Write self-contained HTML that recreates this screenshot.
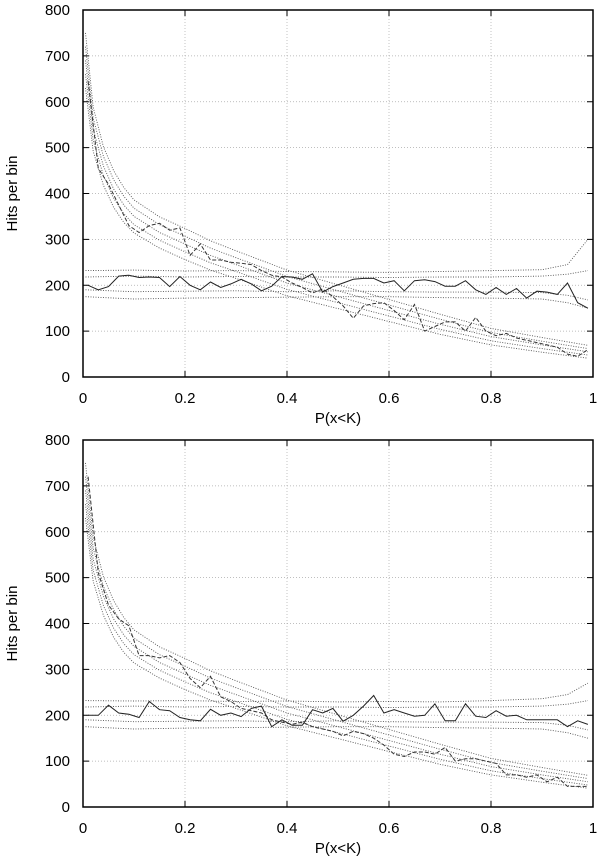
<!DOCTYPE html>
<html><head><meta charset="utf-8"><style>
html,body{margin:0;padding:0;background:#fff;}
svg{display:block;font-family:"Liberation Sans",Arial,sans-serif;}
</style></head><body>
<svg id="fig" width="600" height="864" viewBox="0 0 600 864"></svg>
<script>
const binX=[0.01,0.03,0.05,0.07,0.09,0.11,0.13,0.15,0.17,0.19,0.21,0.23,0.25,0.27,0.29,0.31,0.33,0.35,0.37,0.39,0.41,0.43,0.45,0.47,0.49,0.51,0.53,0.55,0.57,0.59,0.61,0.63,0.65,0.67,0.69,0.71,0.73,0.75,0.77,0.79,0.81,0.83,0.85,0.87,0.89,0.91,0.93,0.95,0.97,0.99];
const solid1=[200,190,197,220,222,217,218,217,197,219,200,190,207,195,203,213,203,188,198,219,218,213,225,185,197,205,213,215,215,205,210,188,210,212,208,198,198,210,190,180,195,180,193,172,187,185,180,205,162,150];
const dashed1=[645,455,420,375,330,315,330,335,320,325,265,290,255,255,250,248,245,232,222,218,205,195,183,192,175,155,128,155,160,162,145,125,158,100,110,120,120,100,130,100,90,95,85,80,75,70,65,50,45,60];
const solid2=[200,200,222,205,202,195,230,212,210,195,190,188,213,200,205,197,215,220,175,190,178,178,212,205,215,187,200,220,243,205,212,205,198,200,225,188,188,225,198,195,210,198,200,190,190,190,190,175,188,180];
const dashed2=[720,510,440,410,395,330,330,325,330,315,280,260,285,240,230,215,210,205,190,185,180,185,175,170,165,155,165,160,150,135,115,110,120,120,115,130,100,105,105,100,95,70,70,65,70,55,65,45,45,45];
const decayX=[0.005,0.02,0.04,0.06,0.08,0.1,0.15,0.2,0.25,0.3,0.4,0.5,0.6,0.7,0.8,0.9,0.99];
const decayP2=[750,588,502,450,413,386,349,324,297,275,233,201,169,137,106,86,69];
const decayP1=[720,564,481,430,394,368,332,307,281,260,219,188,157,126,97,78,62];
const decayM=[690,540,460,410,375,350,315,290,265,245,205,175,145,115,88,70,55];
const decayN1=[660,516,439,390,356,332,298,273,249,230,191,162,133,104,79,62,48];
const decayN2=[630,492,418,370,337,314,281,256,233,215,177,149,121,93,70,54,41];
const flatX=[0.005,0.1,0.2,0.3,0.4,0.5,0.6,0.7,0.8,0.9,0.95,0.99];
const flatA1=[232,233,231,232,230,229,228,230,232,234,245,300];
const flatA2=[232,231,232,230,231,229,230,229,232,236,245,270];
const flatB=[218,220,218,219,218,218,217,218,218,220,224,232];
const flatC=[190,186,187,188,186,188,186,185,185,184,178,168];
const flatD=[175,170,172,173,174,175,175,173,172,170,162,150];
const xTicks=[0,0.2,0.4,0.6,0.8,1];
const xTickLabels=["0","0.2","0.4","0.6","0.8","1"];
const yTicks=[0,100,200,300,400,500,600,700,800];

const NS="http://www.w3.org/2000/svg";
const svg=document.getElementById('fig');
function mk(tag,attrs,parent){const e=document.createElementNS(NS,tag);for(const k in attrs)e.setAttribute(k,attrs[k]);(parent||svg).appendChild(e);return e;}

function panel(top,solid,dashed,flatA,idx){
  const L=83,R=593,T=top,B=top+367;
  const sx=v=>L+v*(R-L), sy=v=>B-v/800*(B-T);
  const g=mk('g',{});
  
  
  // grid
  xTicks.forEach((t,i)=>{
    if(i>0&&i<xTicks.length-1){const l=mk('line',{x1:sx(t),x2:sx(t),y1:T,y2:B,stroke:'#aaa','stroke-width':0.7,'stroke-dasharray':'1,2'},g);
      
      }
    const a=mk('line',{x1:sx(t),x2:sx(t),y1:B,y2:B-6,stroke:'#000','stroke-width':1},g);
    
    
    const b=mk('line',{x1:sx(t),x2:sx(t),y1:T,y2:T+6,stroke:'#000','stroke-width':1},g);
    
    
    const tx=mk('text',{x:sx(t),y:B+26,'font-size':15,'text-anchor':'middle',fill:'#000'},g);
    tx.textContent=xTickLabels[i];
    
    
  });
  yTicks.forEach((t,i)=>{
    if(i>0&&i<yTicks.length-1){const l=mk('line',{x1:L,x2:R,y1:sy(t),y2:sy(t),stroke:'#aaa','stroke-width':0.7,'stroke-dasharray':'1,2'},g);
      
      }
    const a=mk('line',{x1:L,x2:L+6,y1:sy(t),y2:sy(t),stroke:'#000','stroke-width':1},g);
    
    
    const b=mk('line',{x1:R,x2:R-6,y1:sy(t),y2:sy(t),stroke:'#000','stroke-width':1},g);
    
    
    const tx=mk('text',{x:L-13,y:sy(t)+5,'font-size':15,'text-anchor':'end',fill:'#000'},g);
    tx.textContent=String(t);
    
    
  });
  function line(xs,ys,attrs,name){
    const p=mk('polyline',Object.assign({points:xs.map((x,i)=>sx(x).toFixed(1)+','+sy(ys[i]).toFixed(1)).join(' '),fill:'none'},attrs),g);
    
    
  }
  const dot={stroke:'#555','stroke-width':0.9,'stroke-dasharray':'1,1.5'};
  [decayP2,decayP1,decayM,decayN1,decayN2].forEach((a,i)=>line(decayX,a,dot,'decay-band-'+i));
  [flatA,flatB,flatC,flatD].forEach((a,i)=>line(flatX,a,dot,'flat-band-'+i));
  line(binX,dashed,{stroke:'#333','stroke-width':1,'stroke-dasharray':'4,2'},'dashed-series');
  line(binX,solid,{stroke:'#222','stroke-width':1},'solid-series');
  const fr=mk('rect',{x:L,y:T,width:R-L,height:B-T,fill:'none',stroke:'#000','stroke-width':1.5},g);
  
  
  const xl=mk('text',{x:(L+R)/2,y:B+46,'font-size':15,'text-anchor':'middle',fill:'#000'},g);
  xl.textContent='P(x<K)';
  
  
  const yl=mk('text',{x:0,y:0,'font-size':15,'text-anchor':'middle',fill:'#000',transform:`translate(17,${(T+B)/2}) rotate(-90)`},g);
  yl.textContent='Hits per bin';
  
  
}
panel(10,solid1,dashed1,flatA1,1);
panel(440,solid2,dashed2,flatA2,2);
</script>
</body></html>
